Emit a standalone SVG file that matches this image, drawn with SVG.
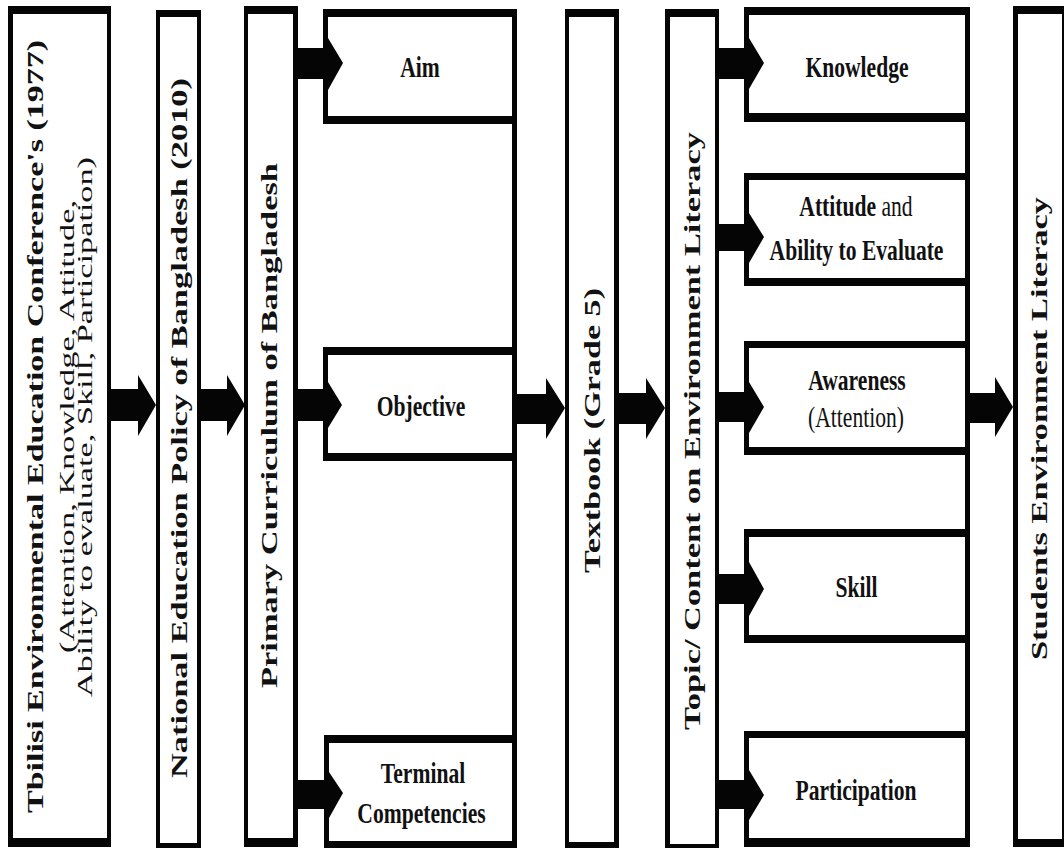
<svg xmlns="http://www.w3.org/2000/svg" width="1064" height="848" viewBox="0 0 1064 848">
<style>
.box{fill:#050505;fill-rule:evenodd}
.line{fill:#050505}
.arr{fill:#050505}
text{font-family:"Liberation Serif","Times New Roman",serif;fill:#111}
.v{font-size:31px;font-weight:bold;text-anchor:middle}
.vr{font-size:29px;font-weight:normal;text-anchor:middle}
.h{font-size:30px;font-weight:bold;text-anchor:middle}
.n{font-weight:normal}
</style>
<rect width="1064" height="848" fill="#fff"/>

<g id="tbilisi">
<path class="box" d="M8 6H111V847H8Z M13 14V838H107V14Z"/>
<text class="v" transform="translate(43,426.5) scale(0.72,1) rotate(-90)" textLength="773" lengthAdjust="spacingAndGlyphs">Tbilisi Environmental Education Conference's (1977)</text>
<text class="vr" transform="translate(74,426.5) scale(0.72,1) rotate(-90)" textLength="453" lengthAdjust="spacingAndGlyphs">(Attention, Knowledge, Attitude,</text>
<text class="vr" transform="translate(92,427) scale(0.72,1) rotate(-90)" textLength="540" lengthAdjust="spacingAndGlyphs">Ability to evaluate, Skill, Participation)</text>
</g>

<g id="policy">
<path class="box" d="M156 10H201V850H156Z M160 17V843H197V17Z"/>
<text class="v" transform="translate(187,428) scale(0.72,1) rotate(-90)" textLength="700" lengthAdjust="spacingAndGlyphs">National Education Policy of Bangladesh (2010)</text>
</g>

<g id="curriculum">
<path class="box" d="M244 6H298V847H244Z M248 14V838H293V14Z"/>
<text class="v" transform="translate(277,425.5) scale(0.72,1) rotate(-90)" textLength="525" lengthAdjust="spacingAndGlyphs">Primary Curriculum of Bangladesh</text>
</g>

<g id="curriculum-bracket">
<rect class="line" x="512" y="9" width="5" height="839"/>
</g>

<g id="aim">
<path class="box" d="M323 9H517V124H323Z M328 17V116H512V17Z"/>
<text class="h" transform="translate(420,77) scale(0.72,1)">Aim</text>
</g>

<g id="objective">
<path class="box" d="M323 347H517V461H323Z M328 355V453H512V355Z"/>
<text class="h" transform="translate(421,416) scale(0.72,1)">Objective</text>
</g>

<g id="terminal">
<path class="box" d="M324 735H517V850H324Z M329 743V841H512V743Z"/>
<text class="h" transform="translate(423,783) scale(0.72,1)">Terminal</text>
<text class="h" transform="translate(421.5,823) scale(0.72,1)">Competencies</text>
</g>

<g id="textbook">
<path class="box" d="M565 9H619V850H565Z M569 17V842H614V17Z"/>
<text class="v" transform="translate(600,430.5) scale(0.72,1) rotate(-90)" textLength="285" lengthAdjust="spacingAndGlyphs">Textbook (Grade 5)</text>
</g>

<g id="topic">
<path class="box" d="M665 9H719V850H665Z M670 17V844H715V17Z"/>
<text class="v" transform="translate(700,431) scale(0.72,1) rotate(-90)" textLength="598" lengthAdjust="spacingAndGlyphs">Topic/ Content on Environment Literacy</text>
</g>

<g id="topic-bracket">
<rect class="line" x="965" y="7" width="5" height="840"/>
</g>

<g id="knowledge">
<path class="box" d="M744 7H970V122H744Z M749 15V113H965V15Z"/>
<text class="h" transform="translate(857,77) scale(0.72,1)">Knowledge</text>
</g>

<g id="attitude">
<path class="box" d="M744 173H970V286H744Z M749 180V278H965V180Z"/>
<text class="h" transform="translate(856,216) scale(0.72,1)">Attitude<tspan class="n"> and</tspan></text>
<text class="h" transform="translate(856.5,260) scale(0.72,1)">Ability to Evaluate</text>
</g>

<g id="awareness">
<path class="box" d="M744 341H970V455H744Z M749 348V447H965V348Z"/>
<text class="h" transform="translate(857,390) scale(0.72,1)">Awareness</text>
<text class="h n" transform="translate(856,427) scale(0.72,1)">(Attention)</text>
</g>

<g id="skill">
<path class="box" d="M744 529H970V643H744Z M749 537V635H965V537Z"/>
<text class="h" transform="translate(856.5,597) scale(0.72,1)">Skill</text>
</g>

<g id="participation">
<path class="box" d="M744 731H970V847H744Z M749 738V838H965V738Z"/>
<text class="h" transform="translate(856,800) scale(0.72,1)">Participation</text>
</g>

<g id="students">
<path class="box" d="M1013 6H1068V847H1013Z M1018 14V839H1062V14Z"/>
<text class="v" transform="translate(1047,428.5) scale(0.72,1) rotate(-90)" textLength="463" lengthAdjust="spacingAndGlyphs">Students Environment Literacy</text>
</g>

<g id="connectors">
<polygon class="arr" points="111,389 138,389 138,375 156,405 138,436 138,421 111,421"/>
<polygon class="arr" points="201,389 227,389 227,375 245,405 227,436 227,421 201,421"/>
<polygon class="arr" points="297,48 328,48 328,38 343,63 328,90 328,79 297,79"/>
<polygon class="arr" points="297,389 328,389 328,382 342,405 328,428 328,421 297,421"/>
<polygon class="arr" points="297,780 329,780 329,772 343,793 329,818 329,809 297,809"/>
<polygon class="arr" points="517,394 546,394 546,378 565,408 546,439 546,424 517,424"/>
<polygon class="arr" points="619,393 646,393 646,378 665,408 646,439 646,424 619,424"/>
<polygon class="arr" points="719,48 749,48 749,38 764,63 749,89 749,79 719,79"/>
<polygon class="arr" points="719,224 749,224 749,213 764,237 749,263 749,251 719,251"/>
<polygon class="arr" points="719,392 749,392 749,382 764,407 749,433 749,422 719,422"/>
<polygon class="arr" points="719,574 749,574 749,562 764,589 749,616 749,604 719,604"/>
<polygon class="arr" points="719,780 749,780 749,770 764,795 749,820 749,809 719,809"/>
<polygon class="arr" points="970,393 995,393 995,377 1013,407 995,437 995,423 970,423"/>
</g>
</svg>
